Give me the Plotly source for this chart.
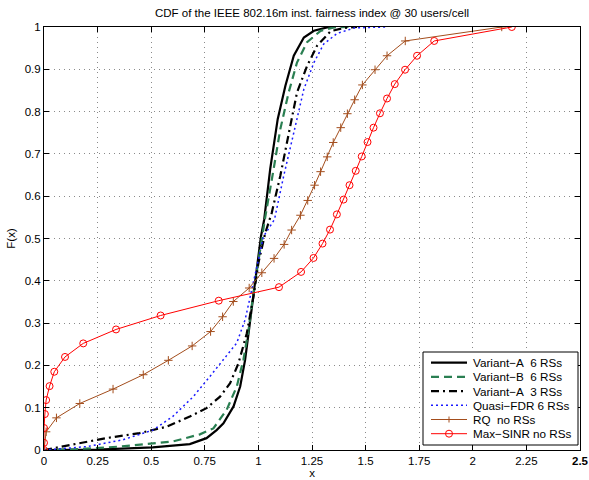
import plotly.graph_objects as go

# ---- data ----
va6_x = [0, 0.25, 0.507, 0.68, 0.758, 0.805, 0.837, 0.884, 0.915, 0.938, 0.954, 0.97, 0.993, 1.012, 1.027, 1.055, 1.09, 1.126, 1.165, 1.212, 1.259, 1.32, 1.36]
va6_y = [0, 0.001, 0.006, 0.014, 0.028, 0.047, 0.063, 0.103, 0.15, 0.213, 0.276, 0.34, 0.427, 0.505, 0.545, 0.664, 0.782, 0.861, 0.932, 0.975, 0.991, 0.999, 1.0]

vb6_x = [0, 0.15, 0.352, 0.60, 0.727, 0.79, 0.852, 0.899, 0.93, 0.954, 0.977, 1.0, 1.03, 1.071, 1.102, 1.141, 1.18, 1.227, 1.29, 1.352, 1.42]
vb6_y = [0, 0.002, 0.008, 0.02, 0.037, 0.051, 0.095, 0.15, 0.213, 0.284, 0.371, 0.45, 0.545, 0.664, 0.758, 0.845, 0.916, 0.964, 0.991, 0.999, 1.0]

va3_x = [0, 0.117, 0.29, 0.446, 0.571, 0.68, 0.758, 0.821, 0.868, 0.907, 0.946, 0.977, 1.0, 1.032, 1.062, 1.102, 1.141, 1.18, 1.227, 1.274, 1.337, 1.40, 1.46]
va3_y = [0, 0.012, 0.028, 0.04, 0.055, 0.079, 0.099, 0.126, 0.158, 0.205, 0.276, 0.363, 0.442, 0.513, 0.56, 0.648, 0.75, 0.845, 0.908, 0.956, 0.99, 0.998, 1.0]

qf_x = [0, 0.2, 0.367, 0.508, 0.60, 0.696, 0.774, 0.837, 0.899, 0.938, 0.962, 0.993, 1.024, 1.075, 1.118, 1.165, 1.212, 1.259, 1.305, 1.368, 1.45, 1.6]
qf_y = [0, 0.008, 0.024, 0.047, 0.079, 0.126, 0.174, 0.213, 0.253, 0.308, 0.363, 0.442, 0.505, 0.545, 0.648, 0.75, 0.853, 0.916, 0.960, 0.985, 0.998, 1.0]

rq_x = [0, 0.01, 0.058, 0.167, 0.322, 0.463, 0.58, 0.691, 0.777, 0.833, 0.883, 0.957, 1.016, 1.073, 1.12, 1.155, 1.196, 1.23, 1.262, 1.29, 1.321, 1.349, 1.384, 1.415, 1.449, 1.485, 1.544, 1.60, 1.685, 2.135]
rq_y = [0, 0.043, 0.076, 0.11, 0.144, 0.178, 0.212, 0.246, 0.28, 0.315, 0.351, 0.383, 0.419, 0.453, 0.486, 0.52, 0.555, 0.59, 0.626, 0.658, 0.693, 0.727, 0.762, 0.795, 0.828, 0.863, 0.899, 0.932, 0.967, 1.0]

ms_x = [0, 0, 0, 0.004, 0.01, 0.026, 0.048, 0.098, 0.183, 0.336, 0.544, 0.815, 1.096, 1.199, 1.257, 1.299, 1.334, 1.366, 1.397, 1.425, 1.454, 1.482, 1.509, 1.537, 1.567, 1.600, 1.636, 1.684, 1.740, 1.82, 2.182]
ms_y = [0, 0.017, 0.052, 0.085, 0.118, 0.151, 0.185, 0.22, 0.252, 0.285, 0.318, 0.353, 0.385, 0.421, 0.454, 0.488, 0.521, 0.557, 0.592, 0.626, 0.66, 0.694, 0.728, 0.762, 0.796, 0.831, 0.865, 0.899, 0.932, 0.967, 1.0]

x_ticks = [0, 0.25, 0.5, 0.75, 1, 1.25, 1.5, 1.75, 2, 2.25, 2.5]
x_ticktext = ["0", "0.25", "0.5", "0.75", "1", "1.25", "1.5", "1.75", "2", "2.25", "<b>2.5</b>"]
y_ticks = [0, 0.1, 0.2, 0.3, 0.4, 0.5, 0.6, 0.7, 0.8, 0.9, 1]
y_ticktext = ["0", "0.1", "0.2", "0.3", "0.4", "0.5", "0.6", "0.7", "0.8", "0.9", "1"]

names = ["Variant\u2212A\u00a0 6 RSs", "Variant\u2212B\u00a0 6 RSs", "Variant\u2212A\u00a0 3 RSs",
         "Quasi\u2212FDR 6 RSs", "RQ\u00a0 no RSs", "Max\u2212SINR no RSs"]

FONT = "Liberation Sans, Arial, sans-serif"
BROWN = "#a34d1c"
RED = "#ff0000"

line_styles = [
    dict(color="black", width=2.2),
    dict(color="#2a7f52", width=2.2, dash="8px,5px"),
    dict(color="black", width=2.2, dash="8px,4px,2px,4px"),
    dict(color="#1a1aff", width=1.5, dash="2px,3px"),
    dict(color=BROWN, width=1),
    dict(color=RED, width=1),
]
series = [(va6_x, va6_y), (vb6_x, vb6_y), (va3_x, va3_y), (qf_x, qf_y), (rq_x, rq_y), (ms_x, ms_y)]
markers = [None, None, None, None,
           dict(symbol="cross-thin", size=6, color=BROWN, line=dict(color=BROWN, width=1)),
           dict(symbol="circle-open", size=7, color=RED, line=dict(color=RED, width=1))]

fig = go.Figure()
for (sx, sy), nm, ls, mk in zip(series, names, line_styles, markers):
    if mk is None:
        fig.add_trace(go.Scatter(x=sx, y=sy, mode="lines", name=nm, line=ls, showlegend=False))
    else:
        fig.add_trace(go.Scatter(x=sx, y=sy, mode="lines+markers", name=nm, line=ls,
                                 marker=mk, showlegend=False))

# ---- layout geometry ----
W, H = 589, 480
L, R, T, B = 44, 9, 27, 30


def pxx(x):
    return (x - L) / (W - L - R)


def pxy(y):
    return (H - B - y) / (H - T - B)


# ---- manual legend (boxed, lower right) ----
shapes = [dict(type="rect", xref="paper", yref="paper", layer="above",
               x0=pxx(423), x1=pxx(578), y0=pxy(445), y1=pxy(352),
               line=dict(color="black", width=1), fillcolor="white")]
annotations = []
row_y = [362.7, 376.9, 391.1, 405.3, 419.5, 433.7]
for i, (nm, ls) in enumerate(zip(names, line_styles)):
    yy = pxy(row_y[i])
    shapes.append(dict(type="line", xref="paper", yref="paper", layer="above",
                       x0=pxx(431), x1=pxx(467), y0=yy, y1=yy, line=ls))
    annotations.append(dict(text=nm, xref="paper", yref="paper", x=pxx(471), y=yy,
                            xanchor="left", yanchor="middle", showarrow=False,
                            font=dict(family=FONT, size=11.7, color="black")))
# legend marker samples
cx = pxx(449)
yb = pxy(row_y[4])
shapes.append(dict(type="line", xref="paper", yref="paper", layer="above",
                   xsizemode="pixel", xanchor=cx, x0=-3, x1=3, y0=yb, y1=yb,
                   line=dict(color=BROWN, width=1)))
shapes.append(dict(type="line", xref="paper", yref="paper", layer="above",
                   ysizemode="pixel", yanchor=yb, x0=cx, x1=cx, y0=-3, y1=3,
                   line=dict(color=BROWN, width=1)))
yr = pxy(row_y[5])
shapes.append(dict(type="circle", xref="paper", yref="paper", layer="above",
                   xsizemode="pixel", ysizemode="pixel", xanchor=cx, yanchor=yr,
                   x0=-3.5, x1=3.5, y0=-3.5, y1=3.5,
                   line=dict(color=RED, width=1), fillcolor="rgba(0,0,0,0)"))

axis_common = dict(showline=True, linecolor="black", linewidth=1, mirror="ticks",
                   ticks="inside", ticklen=5, tickcolor="black", tickwidth=1,
                   showgrid=True, gridcolor="#8a8a8a", griddash="1px,4px", gridwidth=1,
                   zeroline=False, automargin=False,
                   tickfont=dict(family=FONT, size=11.5, color="black"))

fig.update_layout(
    width=W, height=H,
    margin=dict(l=L, r=R, t=T, b=B),
    paper_bgcolor="white", plot_bgcolor="white",
    font=dict(family=FONT, size=11.5, color="black"),
    title=dict(text="CDF of the IEEE 802.16m inst. fairness index @ 30 users/cell",
               x=0.5, xref="paper", y=1 - 13 / 480, yref="container", yanchor="middle",
               font=dict(family=FONT, size=11.5, color="black")),
    xaxis=dict(range=[0, 2.5], tickvals=x_ticks, ticktext=x_ticktext,
               title=dict(text="x", standoff=2, font=dict(family=FONT, size=11.5)),
               **axis_common),
    yaxis=dict(range=[0, 1], tickvals=y_ticks, ticktext=y_ticktext,
               title=dict(text="F(x)", standoff=6, font=dict(family=FONT, size=11.5)),
               **axis_common),
    shapes=shapes,
    annotations=annotations,
    showlegend=False,
)

fig.write_html("out.html")
